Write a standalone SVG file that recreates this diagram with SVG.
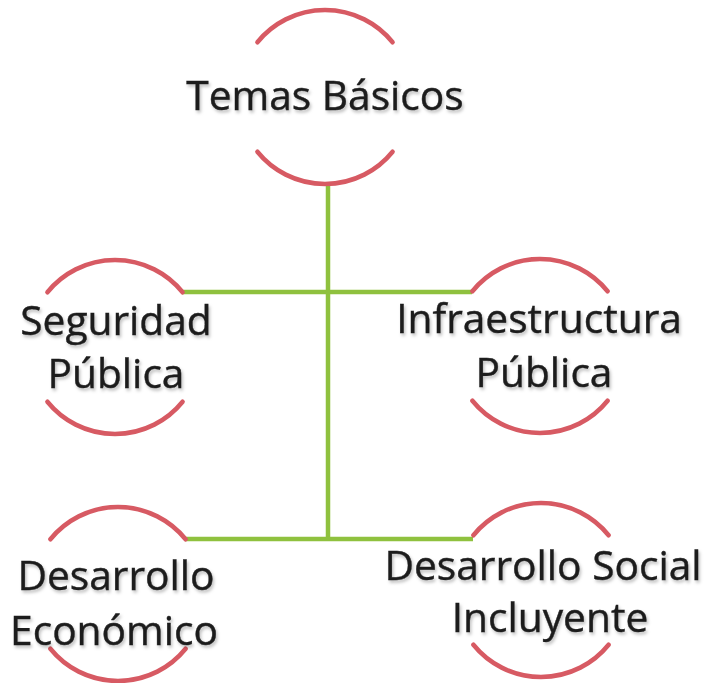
<svg xmlns="http://www.w3.org/2000/svg" width="706" height="683" viewBox="0 0 706 683">
<defs>
<filter id="sh" x="-10%" y="-20%" width="120%" height="150%">
<feDropShadow dx="1.5" dy="2.5" stdDeviation="1.5" flood-color="#000" flood-opacity="0.25"/>
</filter>
<style>
.arc{fill:none;stroke:#d75a63;stroke-width:4.5;stroke-linecap:round}
.lbl{font-family:"Open Sans","Noto Sans",sans-serif;font-size:40.7px;fill:#1c1c1c;stroke:#1c1c1c;stroke-width:0.4;text-anchor:middle;filter:url(#sh)}
.con{fill:none;stroke:#8fc13e;stroke-width:4.5}
</style>
</defs>
<rect width="706" height="683" fill="#ffffff"/>
<g id="connectors">
<path class="con" d="M328 184 V539"/>
<path class="con" d="M182 292 H472"/>
<path class="con" d="M185 539 H473"/>
</g>
<g id="temas">
<path class="arc" d="M257.4 42.25 A87 87 0 0 1 392.6 42.25"/>
<path class="arc" d="M257.4 151.75 A87 87 0 0 0 392.6 151.75"/>
<text class="lbl" x="325" y="110">Temas Básicos</text>
</g>
<g id="seguridad">
<path class="arc" d="M47.4 292.25 A87 87 0 0 1 182.6 292.25"/>
<path class="arc" d="M47.4 401.75 A87 87 0 0 0 182.6 401.75"/>
<text class="lbl" x="116" y="335">Seguridad</text>
<text class="lbl" x="116" y="388">Pública</text>
</g>
<g id="infraestructura">
<path class="arc" d="M472.4 291.25 A87 87 0 0 1 607.6 291.25"/>
<path class="arc" d="M472.4 400.75 A87 87 0 0 0 607.6 400.75"/>
<text class="lbl" x="539" y="333">Infraestructura</text>
<text class="lbl" x="544" y="387">Pública</text>
</g>
<g id="economico">
<path class="arc" d="M50.4 539.25 A87 87 0 0 1 185.6 539.25"/>
<path class="arc" d="M50.4 648.75 A87 87 0 0 0 185.6 648.75"/>
<text class="lbl" x="116" y="590">Desarrollo</text>
<text class="lbl" x="114" y="645">Económico</text>
</g>
<g id="social">
<path class="arc" d="M473.4 535.25 A87 87 0 0 1 608.6 535.25"/>
<path class="arc" d="M473.4 644.75 A87 87 0 0 0 608.6 644.75"/>
<text class="lbl" x="543" y="580">Desarrollo Social</text>
<text class="lbl" x="550" y="632">Incluyente</text>
</g>
</svg>
